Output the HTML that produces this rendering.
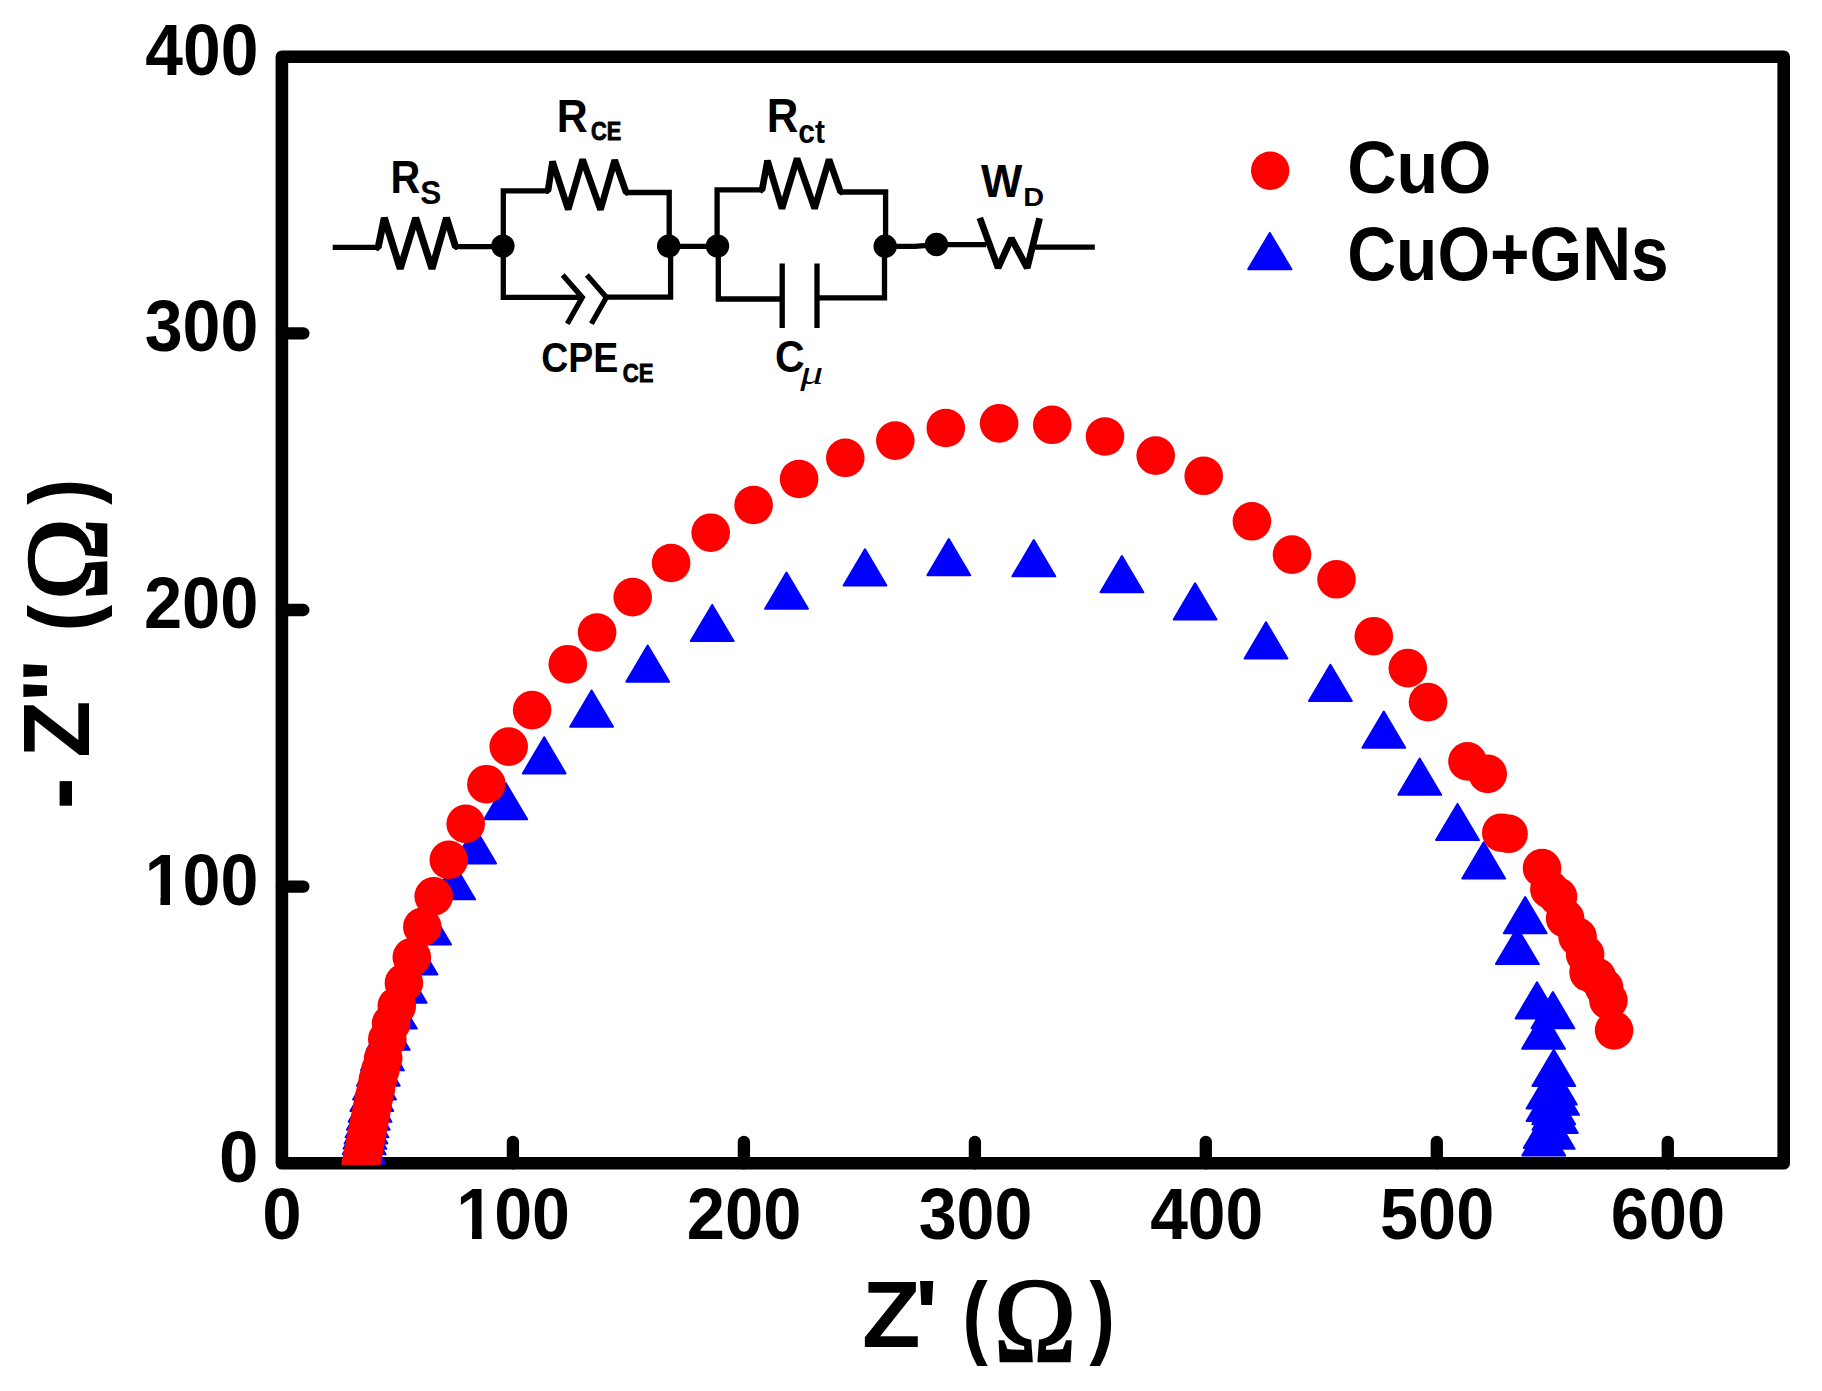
<!DOCTYPE html>
<html lang="en"><head><meta charset="utf-8"><title>Nyquist plot: CuO vs CuO+GNs</title>
<style>html,body{margin:0;padding:0;background:#fff}body{width:1822px;height:1391px;overflow:hidden}svg{display:block}text{font-kerning:none;white-space:pre}</style></head><body>
<svg width="1822" height="1391" viewBox="0 0 1822 1391">
<rect width="1822" height="1391" fill="#fff"/>
<g id="axes" fill="none" stroke="#000" stroke-linecap="round" stroke-linejoin="round">
<rect x="281.9" y="56.7" width="1501.8" height="1106.6" stroke-width="12.6"/>
<path d="M512.9 1163.3V1141.8M743.9 1163.3V1141.8M974.9 1163.3V1141.8M1205.8 1163.3V1141.8M1436.8 1163.3V1141.8M1667.8 1163.3V1141.8M281.9 886.6H303.4M281.9 610.0H303.4M281.9 333.3H303.4" stroke-width="12.3"/>
</g>
<defs><clipPath id="onefoot"><rect x="-5" y="-56.94" width="45.53" height="48.00"/><rect x="16.91" y="-17.79" width="10.20" height="23.79"/><rect x="40.53" y="-56.94" width="85.41" height="62.94"/></clipPath></defs>
<g id="ticklabels">
<text transform="translate(219.10 1182.09) scale(0.9723 1)" font-family='"Liberation Sans", sans-serif' font-weight="bold" font-style="normal" font-size="72.88" fill="#000" >0</text>
<g transform="translate(144.64 905.14) scale(0.9355 1)"><text clip-path="url(#onefoot)" font-family='"Liberation Sans", sans-serif' font-weight="bold" font-size="72.88">100</text></g>
<text transform="translate(143.92 627.79) scale(0.9416 1)" font-family='"Liberation Sans", sans-serif' font-weight="bold" font-style="normal" font-size="72.88" fill="#000" >200</text>
<text transform="translate(144.74 351.38) scale(0.9366 1)" font-family='"Liberation Sans", sans-serif' font-weight="bold" font-style="normal" font-size="72.73" fill="#000" >300</text>
<text transform="translate(145.27 74.94) scale(0.9302 1)" font-family='"Liberation Sans", sans-serif' font-weight="bold" font-style="normal" font-size="72.88" fill="#000" >400</text>
<text transform="translate(262.25 1239.44) scale(0.9723 1)" font-family='"Liberation Sans", sans-serif' font-weight="bold" font-style="normal" font-size="72.88" fill="#000" >0</text>
<g transform="translate(456.27 1239.44) scale(0.9355 1)"><text clip-path="url(#onefoot)" font-family='"Liberation Sans", sans-serif' font-weight="bold" font-size="72.88">100</text></g>
<text transform="translate(686.84 1239.44) scale(0.9416 1)" font-family='"Liberation Sans", sans-serif' font-weight="bold" font-style="normal" font-size="72.88" fill="#000" >200</text>
<text transform="translate(918.64 1239.33) scale(0.9366 1)" font-family='"Liberation Sans", sans-serif' font-weight="bold" font-style="normal" font-size="72.73" fill="#000" >300</text>
<text transform="translate(1150.16 1239.44) scale(0.9302 1)" font-family='"Liberation Sans", sans-serif' font-weight="bold" font-style="normal" font-size="72.88" fill="#000" >400</text>
<text transform="translate(1380.06 1239.44) scale(0.9393 1)" font-family='"Liberation Sans", sans-serif' font-weight="bold" font-style="normal" font-size="72.88" fill="#000" >500</text>
<text transform="translate(1610.63 1239.44) scale(0.9427 1)" font-family='"Liberation Sans", sans-serif' font-weight="bold" font-style="normal" font-size="72.88" fill="#000" >600</text>
</g>
<g id="xtitle"><text transform="translate(862.05 1346.90) scale(1.0031 1)" font-family='"Liberation Sans", sans-serif' font-weight="bold" font-style="normal" font-size="95.50" fill="#000" >Z</text><text transform="translate(914.81 1346.90) scale(1.0376 1)" font-family='"Liberation Sans", sans-serif' font-weight="bold" font-style="normal" font-size="95.79" fill="#000" >' </text><text transform="translate(962.42 1347.33) scale(0.8124 1)" font-family='"Liberation Sans", sans-serif' font-weight="bold" font-style="normal" font-size="93.33" fill="#000" >(</text><text transform="translate(993.97 1361.40) scale(0.9195 1)" font-family='"Liberation Serif", serif' font-weight="normal" font-style="normal" font-size="120.37" fill="#000" stroke="#000" stroke-width="2.6">Ω</text><text transform="translate(1089.43 1347.33) scale(0.8162 1)" font-family='"Liberation Sans", sans-serif' font-weight="bold" font-style="normal" font-size="93.33" fill="#000" >)</text></g>
<g id="ytitle"><text transform="translate(92.52 809.48) rotate(-90) scale(0.9385 1)" font-family='"Liberation Sans", sans-serif' font-weight="bold" font-style="normal" font-size="103.24" fill="#000" >- </text><text transform="translate(89.20 757.69) rotate(-90) scale(0.9955 1)" font-family='"Liberation Sans", sans-serif' font-weight="bold" font-style="normal" font-size="94.04" fill="#000" >Z</text><text transform="translate(89.02 702.05) rotate(-90) scale(1.0116 1)" font-family='"Liberation Sans", sans-serif' font-weight="bold" font-style="normal" font-size="93.78" fill="#000" >'</text><text transform="translate(89.02 681.99) rotate(-90) scale(1.0196 1)" font-family='"Liberation Sans", sans-serif' font-weight="bold" font-style="normal" font-size="93.78" fill="#000" >' </text><text transform="translate(92.59 631.59) rotate(-90) scale(0.8833 1)" font-family='"Liberation Sans", sans-serif' font-weight="bold" font-style="normal" font-size="90.65" fill="#000" >(</text><text transform="translate(106.10 600.33) rotate(-90) scale(0.9505 1)" font-family='"Liberation Serif", serif' font-weight="normal" font-style="normal" font-size="116.45" fill="#000" stroke="#000" stroke-width="2.6">Ω</text><text transform="translate(92.59 504.68) rotate(-90) scale(0.8599 1)" font-family='"Liberation Sans", sans-serif' font-weight="bold" font-style="normal" font-size="90.65" fill="#000" >)</text></g>
<g id="circuit-wires" fill="none" stroke="#000" stroke-width="5.3" stroke-linejoin="miter" stroke-linecap="butt">
<path d="M332.7 247.4H379M455 246.6H503"/>
<path d="M503.3 246.2V190.8H548.6M625.6 192.5H669.2V246.2"/>
<path d="M503.3 246.2V297.4H582.3M606.4 297.2H670.6V246.2"/>
<path d="M562.7 275.1L582.3 297.4L567.3 323.8M586.9 275.1L606.4 297.4L591.4 323.8"/>
<path d="M669 246.3H717.5"/>
<path d="M717.1 246.2V189.9H762.8M840 192.0H885.6V246.2"/>
<path d="M718.3 246.2V299.0H782.2M817.0 297.8H884.5V246.2"/>
<path d="M782.2 263.4V328.0M817.0 263.4V328.0"/>
<path d="M885.6 246.3H915L936.5 244.6H986M1034.2 247.2H1094.8"/>
</g>
<g id="circuit-zigzags" fill="none" stroke="#000" stroke-linejoin="bevel" stroke-linecap="butt">
<path stroke-width="7.0" d="M376.5 247.4H378.2L384.3 217.9L400.2 268.7L415.7 217.9L432 268.7L446.5 217.9L455.5 246.6H457"/>
<path stroke-width="6.6" d="M546.5 190.8H548.0L552.5 161.6L568.2 209.4L582.7 159.5L600.5 209.7L614.7 160.1L626.2 192.5H627.7"/>
<path stroke-width="6.6" d="M760.6 189.9H762.1L767.5 160.7L782.0 208.5L797.1 158.5L814.6 208.5L829.1 159.5L840.6 192.0H842.1"/>
<path stroke-width="6.7" d="M979.8 217.8L998.1 267.9L1011.4 238.4L1027.2 267.9L1039.6 218.3"/>
</g>
<g id="nodes" fill="#000">
<circle cx="502.9" cy="246.1" r="11.7"/>
<circle cx="668.7" cy="246.1" r="11.7"/>
<circle cx="717.5" cy="246.1" r="11.7"/>
<circle cx="885.2" cy="246.3" r="11.7"/>
<circle cx="936.5" cy="244.5" r="11.7"/>
</g>
<g id="circuit-labels">
<g><text transform="translate(390.44 192.70) scale(0.8958 1)" font-family='"Liberation Sans", sans-serif' font-weight="bold" font-style="normal" font-size="46.08" fill="#000" >R</text><text transform="translate(420.29 203.88) scale(0.9545 1)" font-family='"Liberation Sans", sans-serif' font-weight="bold" font-style="normal" font-size="33.05" fill="#000" >S</text></g>
<g><text transform="translate(556.83 131.80) scale(0.9329 1)" font-family='"Liberation Sans", sans-serif' font-weight="bold" font-style="normal" font-size="45.93" fill="#000" >R</text><text transform="translate(591.06 140.29) scale(0.8243 1)" font-family='"Liberation Sans", sans-serif' font-weight="bold" font-style="normal" font-size="26.41" fill="#000" stroke="#000" stroke-width="0.9">CE</text></g>
<g><text transform="translate(541.16 372.19) scale(0.8939 1)" font-family='"Liberation Sans", sans-serif' font-weight="bold" font-style="normal" font-size="41.95" fill="#000" >CPE</text><text transform="translate(622.74 382.49) scale(0.8299 1)" font-family='"Liberation Sans", sans-serif' font-weight="bold" font-style="normal" font-size="26.69" fill="#000" stroke="#000" stroke-width="0.9">CE</text></g>
<g><text transform="translate(766.87 131.80) scale(0.9158 1)" font-family='"Liberation Sans", sans-serif' font-weight="bold" font-style="normal" font-size="47.82" fill="#000" >R</text><text transform="translate(798.23 142.78) scale(0.9305 1)" font-family='"Liberation Sans", sans-serif' font-weight="bold" font-style="normal" font-size="32.32" fill="#000" >ct</text></g>
<g><text transform="translate(981.06 196.60) scale(0.9615 1)" font-family='"Liberation Sans", sans-serif' font-weight="bold" font-style="normal" font-size="45.49" fill="#000" >W</text><text transform="translate(1023.37 206.20) scale(1.1282 1)" font-family='"Liberation Sans", sans-serif' font-weight="bold" font-style="normal" font-size="25.58" fill="#000" >D</text></g>
<g><text transform="translate(774.92 372.46) scale(0.9184 1)" font-family='"Liberation Sans", sans-serif' font-weight="bold" font-style="normal" font-size="44.63" fill="#000" >C</text><text transform="translate(800.14 383.63) scale(1.3275 1)" font-family='"Liberation Serif", serif' font-weight="normal" font-style="italic" font-size="34.48" fill="#000" >μ</text></g>
</g>
<g id="legend">
<circle cx="1270.2" cy="170.7" r="19.2" fill="#f00"/>
<path d="M1269.8 232.9L1291.4 269.2H1248.2Z" fill="#00f" stroke="#00f" stroke-width="2" stroke-linejoin="round"/>
<text transform="translate(1347.20 193.28) scale(0.9211 1)" font-family='"Liberation Sans", sans-serif' font-weight="bold" font-style="normal" font-size="74.15" fill="#000" >CuO</text>
<text transform="translate(1347.22 280.26) scale(0.8957 1)" font-family='"Liberation Sans", sans-serif' font-weight="bold" font-style="normal" font-size="75.56" fill="#000" >CuO+GNs</text>
</g>
<defs><clipPath id="plotclip"><rect x="0" y="0" width="1822" height="1164.6"/></clipPath></defs>
<g id="data" clip-path="url(#plotclip)">
<path d="M363.0 1143.8l21.4 36.2h-42.8zM363.1 1140.8l21.4 36.2h-42.8zM363.2 1137.8l21.4 36.2h-42.8zM363.4 1134.8l21.4 36.2h-42.8zM363.6 1131.3l21.4 36.2h-42.8zM363.8 1127.4l21.4 36.2h-42.8zM364.2 1118.1l21.4 36.2h-42.8zM364.9 1112.6l21.4 36.2h-42.8zM366.0 1107.2l21.4 36.2h-42.8zM367.0 1101.0l21.4 36.2h-42.8zM368.3 1093.5l21.4 36.2h-42.8zM370.0 1085.6l21.4 36.2h-42.8zM371.8 1074.8l21.4 36.2h-42.8zM374.5 1063.2l21.4 36.2h-42.8zM378.3 1049.5l21.4 36.2h-42.8zM382.4 1034.1l21.4 36.2h-42.8zM388.2 1013.6l21.4 36.2h-42.8zM395.3 992.4l21.4 36.2h-42.8zM405.2 966.5l21.4 36.2h-42.8zM416.0 938.2l21.4 36.2h-42.8zM429.6 908.2l21.4 36.2h-42.8zM453.6 863.1l21.4 36.2h-42.8zM474.7 827.2l21.4 36.2h-42.8zM505.7 783.1l21.4 36.2h-42.8zM544.2 737.2l21.4 36.2h-42.8zM591.6 690.5l21.4 36.2h-42.8zM647.7 645.5l21.4 36.2h-42.8zM712.2 604.9l21.4 36.2h-42.8zM786.5 572.5l21.4 36.2h-42.8zM865.0 549.3l21.4 36.2h-42.8zM948.8 539.0l21.4 36.2h-42.8zM1033.8 540.1l21.4 36.2h-42.8zM1121.9 556.0l21.4 36.2h-42.8zM1195.1 583.3l21.4 36.2h-42.8zM1266.0 622.2l21.4 36.2h-42.8zM1330.4 664.7l21.4 36.2h-42.8zM1383.8 711.5l21.4 36.2h-42.8zM1419.7 758.6l21.4 36.2h-42.8zM1457.5 803.9l21.4 36.2h-42.8zM1483.7 842.3l21.4 36.2h-42.8zM1525.2 897.0l21.4 36.2h-42.8zM1517.3 927.9l21.4 36.2h-42.8zM1537.0 982.2l21.4 36.2h-42.8zM1552.9 992.1l21.4 36.2h-42.8zM1543.5 1012.6l21.4 36.2h-42.8zM1553.8 1049.8l21.4 36.2h-42.8zM1548.0 1072.3l21.4 36.2h-42.8zM1555.3 1068.3l21.4 36.2h-42.8zM1557.5 1078.6l21.4 36.2h-42.8zM1548.0 1084.9l21.4 36.2h-42.8zM1553.7 1088.1l21.4 36.2h-42.8zM1553.9 1093.6l21.4 36.2h-42.8zM1556.4 1096.8l21.4 36.2h-42.8zM1545.2 1111.8l21.4 36.2h-42.8zM1553.2 1112.6l21.4 36.2h-42.8zM1543.7 1119.4l21.4 36.2h-42.8z" fill="#00f" stroke="#00f" stroke-width="2" stroke-linejoin="round"/>
<g fill="#f00">
<circle cx="357.2" cy="1183.6" r="19.3"/>
<circle cx="357.8" cy="1180.6" r="19.3"/>
<circle cx="358.4" cy="1177.6" r="19.3"/>
<circle cx="359.0" cy="1174.6" r="19.3"/>
<circle cx="359.6" cy="1171.6" r="19.3"/>
<circle cx="360.1" cy="1168.6" r="19.3"/>
<circle cx="360.7" cy="1165.6" r="19.3"/>
<circle cx="361.3" cy="1162.6" r="19.3"/>
<circle cx="361.9" cy="1159.6" r="19.3"/>
<circle cx="362.5" cy="1156.4" r="19.3"/>
<circle cx="363.2" cy="1153.0" r="19.3"/>
<circle cx="363.9" cy="1149.3" r="19.3"/>
<circle cx="364.7" cy="1145.2" r="19.3"/>
<circle cx="365.5" cy="1140.8" r="19.3"/>
<circle cx="366.5" cy="1136.1" r="19.3"/>
<circle cx="367.5" cy="1130.9" r="19.3"/>
<circle cx="368.6" cy="1125.2" r="19.3"/>
<circle cx="369.8" cy="1119.1" r="19.3"/>
<circle cx="371.1" cy="1112.4" r="19.3"/>
<circle cx="372.5" cy="1105.2" r="19.3"/>
<circle cx="374.0" cy="1097.3" r="19.3"/>
<circle cx="375.9" cy="1088.7" r="19.3"/>
<circle cx="377.9" cy="1079.4" r="19.3"/>
<circle cx="380.5" cy="1069.3" r="19.3"/>
<circle cx="383.2" cy="1058.3" r="19.3"/>
<circle cx="387.3" cy="1039.2" r="19.3"/>
<circle cx="391.1" cy="1023.5" r="19.3"/>
<circle cx="396.8" cy="1006.0" r="19.3"/>
<circle cx="403.9" cy="982.9" r="19.3"/>
<circle cx="411.8" cy="957.2" r="19.3"/>
<circle cx="422.3" cy="926.9" r="19.3"/>
<circle cx="433.7" cy="896.4" r="19.3"/>
<circle cx="448.8" cy="859.8" r="19.3"/>
<circle cx="465.7" cy="823.8" r="19.3"/>
<circle cx="486.4" cy="784.2" r="19.3"/>
<circle cx="508.7" cy="746.6" r="19.3"/>
<circle cx="532.1" cy="710.1" r="19.3"/>
<circle cx="567.8" cy="664.2" r="19.3"/>
<circle cx="597.1" cy="632.5" r="19.3"/>
<circle cx="632.7" cy="597.1" r="19.3"/>
<circle cx="671.1" cy="563.0" r="19.3"/>
<circle cx="710.7" cy="532.7" r="19.3"/>
<circle cx="753.6" cy="505.0" r="19.3"/>
<circle cx="799.1" cy="479.0" r="19.3"/>
<circle cx="845.3" cy="457.8" r="19.3"/>
<circle cx="895.3" cy="440.6" r="19.3"/>
<circle cx="945.8" cy="428.0" r="19.3"/>
<circle cx="999.1" cy="423.4" r="19.3"/>
<circle cx="1052.2" cy="424.8" r="19.3"/>
<circle cx="1105.0" cy="436.5" r="19.3"/>
<circle cx="1155.7" cy="455.6" r="19.3"/>
<circle cx="1203.7" cy="475.8" r="19.3"/>
<circle cx="1251.9" cy="521.3" r="19.3"/>
<circle cx="1292.0" cy="554.6" r="19.3"/>
<circle cx="1336.5" cy="579.3" r="19.3"/>
<circle cx="1373.8" cy="636.2" r="19.3"/>
<circle cx="1407.8" cy="668.1" r="19.3"/>
<circle cx="1428.0" cy="702.1" r="19.3"/>
<circle cx="1467.5" cy="761.4" r="19.3"/>
<circle cx="1487.7" cy="773.9" r="19.3"/>
<circle cx="1501.3" cy="832.7" r="19.3"/>
<circle cx="1508.6" cy="833.8" r="19.3"/>
<circle cx="1542.0" cy="868.1" r="19.3"/>
<circle cx="1549.4" cy="889.4" r="19.3"/>
<circle cx="1558.0" cy="896.6" r="19.3"/>
<circle cx="1565.1" cy="918.4" r="19.3"/>
<circle cx="1577.6" cy="936.8" r="19.3"/>
<circle cx="1585.1" cy="954.3" r="19.3"/>
<circle cx="1588.6" cy="972.5" r="19.3"/>
<circle cx="1596.8" cy="977.0" r="19.3"/>
<circle cx="1604.1" cy="987.7" r="19.3"/>
<circle cx="1608.4" cy="1000.3" r="19.3"/>
<circle cx="1614.1" cy="1030.4" r="19.3"/>
</g>
</g>
</svg>
</body></html>
